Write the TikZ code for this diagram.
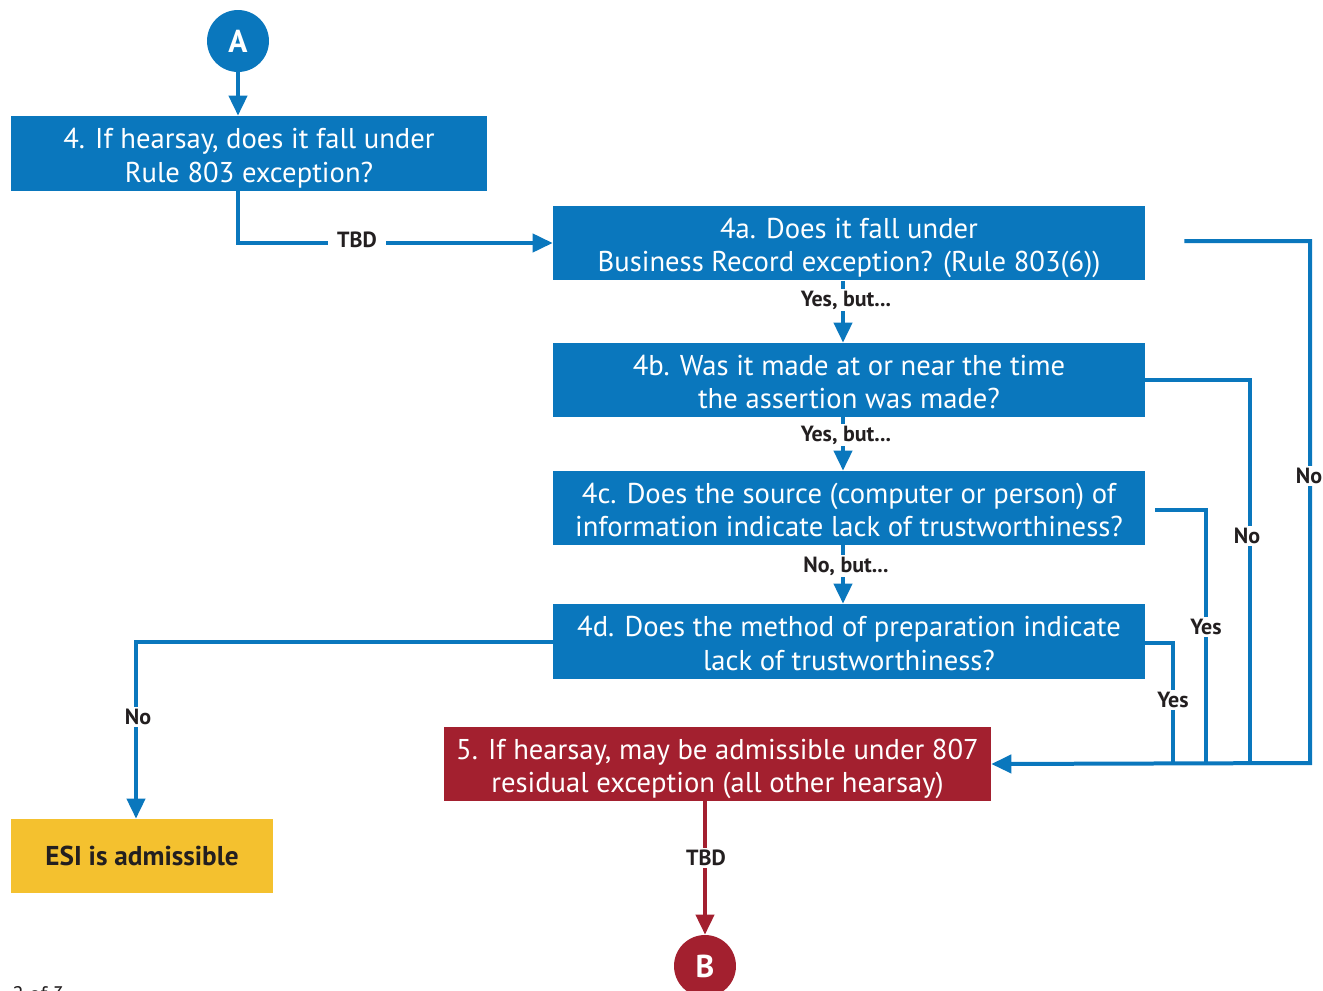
\documentclass[tikz,border=0pt]{standalone}
\usepackage{fontspec}
\setmainfont{PT Sans}
\usetikzlibrary{arrows.meta}
\definecolor{flowblue}{HTML}{0A77BD}
\definecolor{flowred}{HTML}{A3202F}
\definecolor{flowyellow}{HTML}{F4C12F}
\definecolor{labelgray}{HTML}{231F20}
% two centred lines, set a little below the box centre
\newcommand{\twolines}[2]{\raisebox{-0.11cm}[\height][\depth]{\begin{tabular}{@{}c@{}}#1\\#2\end{tabular}}}
\begin{document}
\begin{tikzpicture}[x=0.02cm,y=-0.02cm,
  boxfont/.style={font=\fontsize{16.3}{19}\selectfont},
  qbox/.style={fill=flowblue,text=white,align=center,inner sep=0pt,
    minimum height=1.5cm,boxfont},
  redbox/.style={fill=flowred,text=white,align=center,inner sep=0pt,
    minimum height=1.48cm,minimum width=10.94cm,boxfont},
  endbox/.style={fill=flowyellow,text=labelgray,inner sep=0pt,
    minimum height=1.48cm,minimum width=5.24cm,font=\bfseries\fontsize{15.5}{17}\selectfont},
  connector/.style={circle,minimum size=1.24cm,inner sep=0pt,text=white,
    font=\bfseries\fontsize{18}{18}\selectfont},
  link/.style={line width=0.08cm,draw=flowblue},
  redlink/.style={line width=0.08cm,draw=flowred},
  arr/.style={-{Triangle[length=0.4cm,width=0.36cm]}},
  lab/.style={fill=white,text=labelgray,inner sep=1.2pt,
    font=\bfseries\fontsize{12.5}{14}\selectfont}]
\useasboundingbox (0,0) rectangle (1323,991);

% connectors A and B
\node[connector,fill=flowblue] (A) at (238,41) {A};
\node[connector,fill=flowred] (B) at (705,966) {B};

% question boxes
\node[qbox,minimum width=9.52cm] (n4) at (249,153.5)
  {\twolines{4. If hearsay, does it fall under}{Rule 803 exception?}};
\node[qbox,minimum width=11.84cm] (na) at (849,243)
  {\twolines{4a. Does it fall under}{Business Record exception? (Rule 803(6))}};
\node[qbox,minimum width=11.84cm,minimum height=1.48cm] (nb) at (849,380)
  {\twolines{4b. Was it made at or near the time}{the assertion was made?}};
\node[qbox,minimum width=11.84cm,minimum height=1.48cm] (nc) at (849,508)
  {\twolines{4c. Does the source (computer or person) of}{information indicate lack of trustworthiness?}};
\node[qbox,minimum width=11.84cm] (nd) at (849,641.5)
  {\twolines{4d. Does the method of preparation indicate}{lack of trustworthiness?}};
\node[redbox] (n5) at (717.5,764)
  {\twolines{5. If hearsay, may be admissible under 807}{residual exception (all other hearsay)}};
\node[endbox] (esi) at (142,856) {ESI is admissible};

% helper columns and junctions
\coordinate (col) at (843,0);
\coordinate (colN) at (136,0);
\coordinate (jA) at (1310,763);
\coordinate (jB) at (1250,763);
\coordinate (jC) at (1206,763);
\coordinate (jD) at (1173,763);

% main chain
\draw[link,arr] (A) -- (A |- n4.north);
\draw[link,arr] (A |- n4.south) |- (na.west);
\draw[link,arr] (col |- na.south) -- (col |- nb.north);
\draw[link,arr] (col |- nb.south) -- (col |- nc.north);
\draw[link,arr] (col |- nc.south) -- (col |- nd.north);
\draw[link,arr] (nd.west) -| (colN |- esi.north);
\draw[redlink,arr] (B |- n5.south) -- (B.north);

% right-hand returns to box 5
\draw[link,arr] ([xshift=0.78cm,yshift=0.04cm]na.east) -| (jA) -- (n5.east);
\draw[link] (nb.east) -| (jB);
\draw[link] ([xshift=0.2cm,yshift=-0.04cm]nc.east) -| (jC);
\draw[link] ([yshift=-0.03cm]nd.east) -| (jD);

% labels
\node[lab,inner xsep=5.5pt] at (357,240) {TBD};
\node[lab] at (846,300) {Yes, but...};
\node[lab] at (846,435) {Yes, but...};
\node[lab] at (846,566) {No, but...};
\node[lab] at (138,717) {No};
\node[lab] at (706,858) {TBD};
\node[lab] at (1309,476) {No};
\node[lab] at (1247,536) {No};
\node[lab] at (1206,627) {Yes};
\node[lab] at (1173,700) {Yes};

% page number
\node[anchor=base west,inner sep=0pt,text=labelgray,font=\fontsize{12}{14}\selectfont] (pg) at (12,1001) {2 of 3};
\end{tikzpicture}
\end{document}
